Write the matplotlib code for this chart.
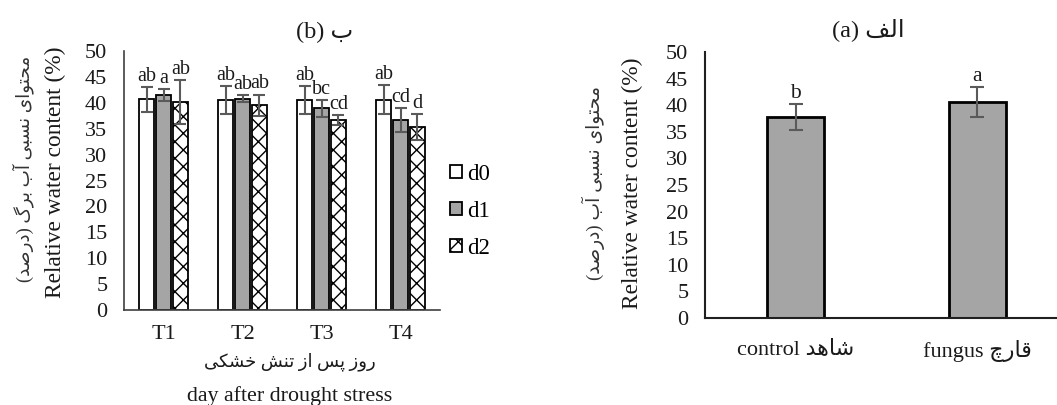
import numpy as np
import matplotlib
matplotlib.use("Agg")
import matplotlib.pyplot as plt

plt.rcParams['font.family'] = ['Liberation Serif', 'DejaVu Sans']

# data
groups = ['T1', 'T2', 'T3', 'T4']
d0 = [40.7, 40.6, 40.6, 40.6]
d0_err = [2.4, 2.7, 2.7, 2.8]
d1 = [41.5, 40.8, 38.9, 36.7]
d1_err = [1.2, 0.7, 1.7, 2.3]
d2 = [40.2, 39.5, 36.7, 35.3]
d2_err = [4.2, 2.1, 0.9, 2.5]
d0_letters = ['ab', 'ab', 'ab', 'ab']
d1_letters = ['a', 'ab', 'bc', 'cd']
d2_letters = ['ab', 'ab', 'cd', 'd']

treat = ['control', 'fungus']
treat_fa = ['شاهد', 'قارچ']
treat_vals = [37.8, 40.6]
treat_err = [2.4, 2.8]
treat_letters = ['b', 'a']

# Persian letters -> (isolated, final, initial, medial) presentation forms
FORMS = {
    'ا': (0xFE8D, 0xFE8E, None, None), 'آ': (0xFE81, 0xFE82, None, None),
    'ب': (0xFE8F, 0xFE90, 0xFE91, 0xFE92), 'پ': (0xFB56, 0xFB57, 0xFB58, 0xFB59),
    'ت': (0xFE95, 0xFE96, 0xFE97, 0xFE98), 'ح': (0xFEA1, 0xFEA2, 0xFEA3, 0xFEA4),
    'خ': (0xFEA5, 0xFEA6, 0xFEA7, 0xFEA8), 'چ': (0xFB7A, 0xFB7B, 0xFB7C, 0xFB7D),
    'د': (0xFEA9, 0xFEAA, None, None), 'ر': (0xFEAD, 0xFEAE, None, None),
    'ز': (0xFEAF, 0xFEB0, None, None), 'س': (0xFEB1, 0xFEB2, 0xFEB3, 0xFEB4),
    'ش': (0xFEB5, 0xFEB6, 0xFEB7, 0xFEB8), 'ص': (0xFEB9, 0xFEBA, 0xFEBB, 0xFEBC),
    'ف': (0xFED1, 0xFED2, 0xFED3, 0xFED4), 'ق': (0xFED5, 0xFED6, 0xFED7, 0xFED8),
    'ک': (0xFB8E, 0xFB8F, 0xFB90, 0xFB91), 'گ': (0xFB92, 0xFB93, 0xFB94, 0xFB95),
    'ل': (0xFEDD, 0xFEDE, 0xFEDF, 0xFEE0), 'م': (0xFEE1, 0xFEE2, 0xFEE3, 0xFEE4),
    'ن': (0xFEE5, 0xFEE6, 0xFEE7, 0xFEE8), 'ه': (0xFEE9, 0xFEEA, 0xFEEB, 0xFEEC),
    'و': (0xFEED, 0xFEEE, None, None), 'ی': (0xFBFC, 0xFBFD, 0xFBFE, 0xFBFF),
}


def fa(text):
    # join letters and put them in visual (left-to-right) order
    out = []
    for i, ch in enumerate(text):
        if ch not in FORMS:
            out.append(ch)
            continue
        prev = text[i - 1] if i > 0 else ''
        nxt = text[i + 1] if i + 1 < len(text) else ''
        join_prev = prev in FORMS and FORMS[prev][2] is not None
        join_next = FORMS[ch][2] is not None and nxt in FORMS
        iso, fin, ini, med = FORMS[ch]
        if join_prev and join_next:
            g = med
        elif join_prev:
            g = fin
        elif join_next:
            g = ini
        else:
            g = iso
        out.append(chr(g))
    vis = ''.join(reversed(out))
    return vis.translate(str.maketrans('()', ')('))


txt = '#1a1a1a'
err_col = '#5a5a5a'
gray = '#a5a5a5'

fig = plt.figure(figsize=(10.57, 4.05), dpi=100)
plt.rcParams['hatch.linewidth'] = 1.0

# ---- left chart (b)
ax1 = fig.add_axes([124 / 1057, 95 / 405, 316 / 1057, 259 / 405])
x = np.arange(len(groups))
w = 0.19
off = 0.215
series = [(d0, d0_err, d0_letters, 'white', '', 'd0'),
          (d1, d1_err, d1_letters, gray, '', 'd1'),
          (d2, d2_err, d2_letters, 'white', 'xx', 'd2')]
handles = []
for k, (vals, errs, lets, fc, hatch, name) in enumerate(series):
    pos = x + (k - 1) * off
    b = ax1.bar(pos, vals, w, color=fc, edgecolor='black', linewidth=1.3,
                hatch=hatch, label=name, zorder=2)
    handles.append(b)
    ax1.errorbar(pos, vals, yerr=errs, fmt='none', ecolor=err_col,
                 elinewidth=1.5, capsize=4, capthick=1.5, zorder=3)
    for p, v, e, l in zip(pos, vals, errs, lets):
        ax1.text(p, v + e + 0.2, l, ha='center', va='bottom', fontsize=14.5, color=txt)

ax1.set_xlim(-0.5, 3.5)
ax1.set_ylim(0, 50)
ax1.set_yticks(range(0, 51, 5))
ax1.set_xticks(x)
ax1.set_xticklabels(groups)
ax1.tick_params(length=0, labelsize=16, colors=txt)
ax1.tick_params(axis='y', pad=12)
ax1.tick_params(axis='x', pad=11)
for s in ['top', 'right']:
    ax1.spines[s].set_visible(False)
for s in ['left', 'bottom']:
    ax1.spines[s].set_color('#404040')
    ax1.spines[s].set_linewidth(1.2)

fig.legend(handles=handles, loc='center left', bbox_to_anchor=(441 / 1057, 0.478),
           frameon=False, fontsize=16.5, handlelength=0.5, handleheight=0.5,
           handletextpad=0.25, labelspacing=0.7, borderaxespad=0)

fig.text(325 / 1057, 0.921, '(b) ' + fa('ب'), ha='center', va='center', fontsize=17.5, color=txt)
fig.text(23 / 1057, 0.583, fa('محتوای نسبی آب برگ (درصد)'), rotation=90,
         ha='center', va='center', fontsize=13.2, color='#333333')
fig.text(55 / 1057, 0.575, 'Relative water content (%)', rotation=90,
         ha='center', va='center', fontsize=16.8, color=txt)
fig.text(290 / 1057, 0.106, fa('روز پس از تنش خشکی'), ha='center', va='center',
         fontsize=13, color=txt)
fig.text(290 / 1057, 0.022, 'day after drought stress', ha='center', va='center',
         fontsize=15.8, color=txt)

# ---- right chart (a)
ax2 = fig.add_axes([705 / 1057, 87 / 405, 363 / 1057, 266 / 405])
xt = np.arange(len(treat))
ax2.bar(xt, treat_vals, 0.314, color=gray, edgecolor='black', linewidth=2, zorder=2)
ax2.errorbar(xt, treat_vals, yerr=treat_err, fmt='none', ecolor=err_col,
             elinewidth=1.5, capsize=5, capthick=1.5, zorder=3)
for p, v, e, l in zip(xt, treat_vals, treat_err, treat_letters):
    ax2.text(p, v + e + 0.3, l, ha='center', va='bottom', fontsize=15.5, color=txt)
ax2.set_xlim(-0.5, 1.5)
ax2.set_ylim(0, 50)
ax2.set_yticks(range(0, 51, 5))
ax2.set_xticks(xt)
ax2.set_xticklabels([e + ' ' + fa(f) for e, f in zip(treat, treat_fa)])
ax2.tick_params(length=0, labelsize=16, colors=txt)
ax2.tick_params(axis='y', pad=12)
ax2.tick_params(axis='x', pad=16)
for s in ['top', 'right']:
    ax2.spines[s].set_visible(False)
for s in ['left', 'bottom']:
    ax2.spines[s].set_color('#202020')
    ax2.spines[s].set_linewidth(1.5)

fig.text(868 / 1057, 0.928, '(a) ' + fa('الف'), ha='center', va='center', fontsize=17.5, color=txt)
fig.text(593 / 1057, 0.548, fa('محتوای نسبی آب (درصد)'), rotation=90,
         ha='center', va='center', fontsize=13.5, color='#333333')
fig.text(632 / 1057, 0.548, 'Relative water content (%)', rotation=90,
         ha='center', va='center', fontsize=16.8, color=txt)

fig.savefig('out.png', dpi=100)
